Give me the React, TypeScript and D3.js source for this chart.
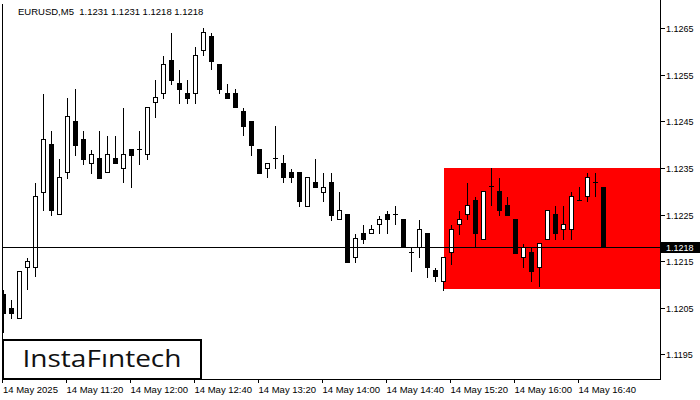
import React from "react";
import * as d3 from "d3";

const opens = [1.1208,1.12049,1.12028,1.12138,1.12138,1.12299,1.12402,1.12251,1.12341,1.12451,1.12412,1.1236,1.12371,1.12341,1.12371,1.1235,1.1239,1.1239,1.1238,1.12491,1.12511,1.12581,1.12532,1.12511,1.12511,1.12603,1.12633,1.12573,1.12511,1.12511,1.12473,1.12451,1.12391,1.1235,1.12371,1.1236,1.12341,1.12341,1.12269,1.1232,1.12299,1.1232,1.1224,1.12251,1.12159,1.12211,1.1221,1.12229,1.12251,1.12251,1.1224,1.12169,1.1218,1.12211,1.1213,1.12108,1.12169,1.12229,1.12251,1.12282,1.12198,1.12312,1.123,1.1227,1.1224,1.12159,1.1217,1.12138,1.12198,1.12251,1.12219,1.12219,1.12282,1.1229,1.1232,1.1231];
const highs = [1.1209,1.12068,1.12128,1.12159,1.1232,1.12512,1.12432,1.12372,1.12502,1.12521,1.12432,1.1239,1.12432,1.12421,1.12421,1.1248,1.1239,1.12432,1.1248,1.12541,1.12593,1.12641,1.12562,1.12541,1.12612,1.12653,1.12641,1.12573,1.12532,1.12521,1.12482,1.12451,1.12391,1.1236,1.12442,1.1238,1.1235,1.12341,1.1233,1.12371,1.12341,1.12341,1.12301,1.12251,1.12211,1.1223,1.1223,1.12249,1.1226,1.12271,1.1224,1.1218,1.1224,1.12211,1.12138,1.12159,1.1223,1.1226,1.1232,1.1229,1.123,1.12352,1.1233,1.1229,1.1224,1.1219,1.1218,1.12189,1.1226,1.1227,1.1227,1.123,1.12312,1.12342,1.12342,1.1231];
const lows = [1.11997,1.12028,1.12028,1.1209,1.12118,1.12259,1.1225,1.12251,1.12329,1.12379,1.12359,1.1234,1.12329,1.12341,1.1236,1.12319,1.1231,1.12359,1.1237,1.1246,1.125,1.1253,1.1249,1.1249,1.1249,1.12592,1.12562,1.12511,1.12501,1.1248,1.1242,1.12379,1.1234,1.1233,1.1235,1.12319,1.12319,1.12269,1.12269,1.1231,1.1228,1.12239,1.1224,1.12149,1.12149,1.12189,1.1221,1.1221,1.1221,1.1223,1.1218,1.12128,1.12159,1.12117,1.12108,1.12088,1.12144,1.12209,1.1224,1.1218,1.12198,1.1227,1.1225,1.1225,1.12168,1.12138,1.12108,1.12097,1.12198,1.12198,1.12198,1.12198,1.12282,1.1228,1.1229,1.1218];
const closes = [1.12038,1.12038,1.12128,1.1215,1.12289,1.12412,1.12259,1.1233,1.12461,1.124,1.1237,1.1238,1.12329,1.1238,1.1236,1.1238,1.12379,1.1239,1.1248,1.12502,1.12573,1.1254,1.1252,1.12501,1.12592,1.12641,1.1258,1.1252,1.12501,1.1248,1.12441,1.124,1.1234,1.1236,1.12371,1.1233,1.1233,1.1228,1.1233,1.1231,1.1231,1.12249,1.12259,1.12149,1.12199,1.12198,1.12219,1.1224,1.1224,1.12251,1.1218,1.12169,1.12219,1.12138,1.12118,1.12159,1.12219,1.1224,1.1227,1.1221,1.123,1.12312,1.12259,1.1225,1.12168,1.1218,1.12129,1.12189,1.1226,1.1221,1.1223,1.1229,1.12282,1.1233,1.1232,1.1218];

const timeTickIndex = [0, 8, 16, 24, 32, 40, 48, 56, 64, 72];
const timeTickLabels = ["14 May 2025","14 May 11:20","14 May 12:00","14 May 12:40","14 May 13:20","14 May 14:00","14 May 14:40","14 May 15:20","14 May 16:00","14 May 16:40"];
const priceTicks = [1.1265, 1.1255, 1.1245, 1.1235, 1.1225, 1.1215, 1.1205, 1.1195];
const priceTickLabels = ["1.1265","1.1255","1.1245","1.1235","1.1225","1.1215","1.1205","1.1195"];

const zoneStartIndex = 55;
const zoneTop = 1.1235;
const zoneBottom = 1.1209;
const currentPrice = 1.1218;
const currentPriceLabel = "1.1218";
const headerText = "EURUSD,M5  1.1231 1.1231 1.1218 1.1218";
const logoText = "InstaF\u0131ntech";

const FONT = "'Liberation Sans', Arial, sans-serif";

export default function App() {
  const n = opens.length;
  const x = d3.scaleLinear().domain([0, n - 1]).range([3.5, 3.5 + 8 * (n - 1)]);
  const y = d3.scaleLinear().domain([1.1195, 1.1265]).range([354.3, 28.3]);
  const py = (p: number) => Math.round(y(p)) + 0.5;
  const plotLeft = 2.5;
  const plotRight = 660.5;
  const plotBottom = 379.5;

  const zoneX = x(zoneStartIndex);
  const zoneY1 = Math.round(y(zoneTop));
  const zoneY2 = Math.round(y(zoneBottom));

  return (
    <svg
      width={700}
      height={400}
      style={{ position: "absolute", left: 0, top: 0, background: "#fff" }}
      shapeRendering="crispEdges"
    >
      <defs>
        <clipPath id="plot">
          <rect x={3} y={0} width={plotRight - 3} height={plotBottom} />
        </clipPath>
      </defs>
      <rect x={0} y={0} width={700} height={400} fill="#fff" />
      <g clipPath="url(#plot)">
        <rect x={zoneX} y={zoneY1} width={plotRight - zoneX} height={zoneY2 - zoneY1} fill="#ff0000" />
        {opens.map((o, i) => {
          const c = closes[i];
          const cx = x(i);
          const top = py(Math.max(o, c));
          const bot = py(Math.min(o, c));
          const up = c >= o;
          return (
            <g key={i}>
              <line x1={cx} x2={cx} y1={py(highs[i])} y2={py(lows[i])} stroke="#000" strokeWidth={1} />
              {bot - top < 1 ? (
                <line x1={cx - 2.5} x2={cx + 2.5} y1={top} y2={top} stroke="#000" strokeWidth={1} />
              ) : (
                <rect x={cx - 2} y={top} width={4} height={bot - top} fill={up ? "#fff" : "#000"} stroke="#000" strokeWidth={1} />
              )}
            </g>
          );
        })}
        <line x1={0} x2={plotRight} y1={py(currentPrice)} y2={py(currentPrice)} stroke="#000" strokeWidth={1} />
      </g>
      {/* frame */}
      <line x1={plotLeft} x2={plotLeft} y1={4} y2={plotBottom} stroke="#000" />
      <line x1={plotRight} x2={plotRight} y1={0} y2={plotBottom + 0.5} stroke="#000" />
      <line x1={plotLeft} x2={plotRight} y1={plotBottom} y2={plotBottom} stroke="#000" />
      {/* price axis */}
      {priceTicks.map((p, i) => (
        <g key={i}>
          <line x1={plotRight} x2={plotRight + 4} y1={py(p)} y2={py(p)} stroke="#000" />
          <text x={666} y={py(p) + 3.5} fontFamily={FONT} fontSize={9} fill="#000">
            {priceTickLabels[i]}
          </text>
        </g>
      ))}
      <rect x={661} y={py(currentPrice) - 5.5} width={39} height={11} fill="#000" />
      <text x={666} y={py(currentPrice) + 3.5} fontFamily={FONT} fontSize={9} fill="#fff">
        {currentPriceLabel}
      </text>
      {/* time axis */}
      {timeTickIndex.map((ti, i) => {
        const tx = Math.round(x(ti)) - 1.5;
        return (
          <g key={i}>
            <line x1={tx} x2={tx} y1={plotBottom} y2={plotBottom + 3.5} stroke="#000" />
            <text x={i === 0 ? 3 : tx} y={392.5} fontFamily={FONT} fontSize={9.5} fill="#000">
              {timeTickLabels[i]}
            </text>
          </g>
        );
      })}
      {/* header */}
      <text x={18} y={14.5} fontFamily={FONT} fontSize={9.5} fill="#000" style={{ whiteSpace: "pre" }}>
        {headerText}
      </text>
      {/* logo */}
      <rect x={3} y={340} width={198} height={38.5} fill="#fff" stroke="#000" strokeWidth={2} />
      <text
        x={22.5}
        y={367}
        fontFamily="'Open Sans', Lato, sans-serif"
        fontWeight={500}
        fontSize={23}
        fill="#111"
        textLength={159}
        lengthAdjust="spacingAndGlyphs"
        shapeRendering="auto"
      >
        {logoText}
      </text>
    </svg>
  );
}
